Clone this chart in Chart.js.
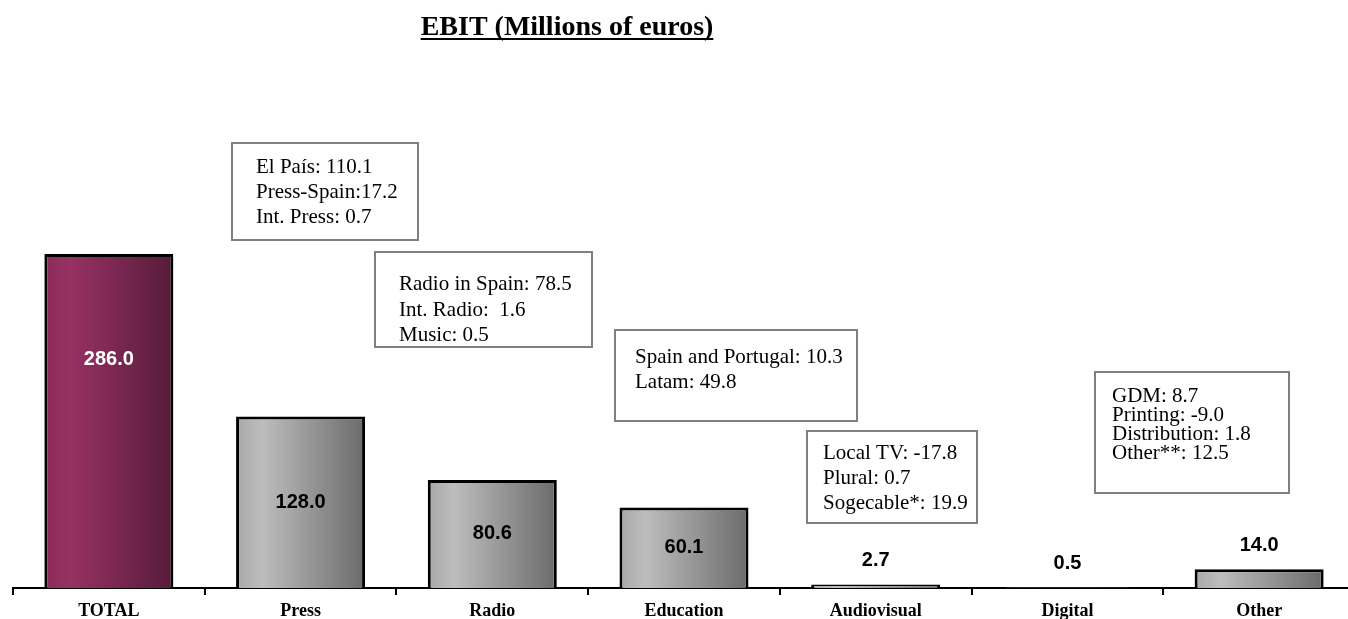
<!DOCTYPE html>
<html lang="en">
<head>
<meta charset="UTF-8">
<title>EBIT (Millions of euros)</title>
<script src="https://cdn.jsdelivr.net/npm/chart.js"></script>
<style>
  html, body { margin: 0; padding: 0; background: #fff; overflow: hidden; }
  #wrap { width: 1370px; height: 619px; }
</style>
</head>
<body>
<div id="wrap"><canvas id="ebitChart"></canvas></div>
<script>
// Data
const categories = ['TOTAL', 'Press', 'Radio', 'Education', 'Audiovisual', 'Digital', 'Other'];
const ebitValues = [286.0, 128.0, 80.6, 60.1, 2.7, 0.5, 14.0];
const breakdownNotes = [
  ['El País: 110.1', 'Press-Spain:17.2', 'Int. Press: 0.7'],
  ['Radio in Spain: 78.5', 'Int. Radio:  1.6', 'Music: 0.5'],
  ['Spain and Portugal: 10.3', 'Latam: 49.8'],
  ['Local TV: -17.8', 'Plural: 0.7', 'Sogecable*: 19.9'],
  ['GDM: 8.7', 'Printing: -9.0', 'Distribution: 1.8', 'Other**: 12.5']
];
const chartTitle = 'EBIT (Millions of euros)';

// TOTAL is drawn on its own (compressed) scale, like the original slide
const totalSeries = ebitValues.map((v, i) => i === 0 ? v : null);
const segmentSeries = ebitValues.map((v, i) => i === 0 ? null : v);

// layout of the note boxes (pixels)
const noteBoxes = [
  { x: 232, y: 143, w: 186, h: 97, tx: 256, ty: [167, 192, 217] },
  { x: 375, y: 252, w: 217, h: 95, tx: 399, ty: [284, 310, 335] },
  { x: 615, y: 330, w: 242, h: 91, tx: 635, ty: [357, 382] },
  { x: 807, y: 431, w: 170, h: 92, tx: 823, ty: [453, 478, 503] },
  { x: 1095, y: 372, w: 194, h: 121, tx: 1112, ty: [396, 415, 434, 453] }
];

const SERIF = "'Liberation Serif', 'Times New Roman', serif";
const SANS = "'Liberation Sans', Arial, sans-serif";
const BAR_PCT = 0.673;

function barGradient(context, purple) {
  const chart = context.chart;
  if (!chart.chartArea) return purple ? '#7f2a55' : '#a0a0a0';
  const xs = chart.scales.x;
  const w = xs.width / categories.length * BAR_PCT;
  const cx = xs.getPixelForValue(context.dataIndex);
  const g = chart.ctx.createLinearGradient(cx - w / 2, 0, cx + w / 2, 0);
  if (purple) {
    g.addColorStop(0, '#8a2b5a');
    g.addColorStop(0.2, '#973263');
    g.addColorStop(1, '#561b3a');
  } else {
    g.addColorStop(0, '#a8a8a8');
    g.addColorStop(0.2, '#bdbdbd');
    g.addColorStop(1, '#6b6b6b');
  }
  return g;
}

const decorPlugin = {
  id: 'decor',
  beforeDraw(chart) {
    const c = chart.ctx;
    c.save();
    c.fillStyle = '#fff';
    c.fillRect(0, 0, chart.width, chart.height);
    c.restore();
  },
  afterDraw(chart) {
    const c = chart.ctx;
    c.save();
    // title, underlined
    c.font = 'bold 28px ' + SERIF;
    c.fillStyle = '#000';
    c.textAlign = 'center';
    c.textBaseline = 'alphabetic';
    c.fillText(chartTitle, 567, 35);
    const tw = c.measureText(chartTitle).width;
    c.fillRect(567 - tw / 2, 38, tw, 2);

    // breakdown boxes
    c.textAlign = 'left';
    c.textBaseline = 'middle';
    c.font = '21px ' + SERIF;
    noteBoxes.forEach((b, k) => {
      c.fillStyle = '#fff';
      c.fillRect(b.x, b.y, b.w, b.h);
      c.strokeStyle = '#808080';
      c.lineWidth = 2;
      c.strokeRect(b.x, b.y, b.w, b.h);
      c.fillStyle = '#000';
      breakdownNotes[k].forEach((line, j) => c.fillText(line, b.tx, b.ty[j]));
    });
    c.restore();
  },
  afterDatasetsDraw(chart) {
    const c = chart.ctx;
    c.save();
    c.font = 'bold 20px ' + SANS;
    c.textAlign = 'center';
    c.textBaseline = 'middle';
    chart.data.datasets.forEach((ds, di) => {
      const meta = chart.getDatasetMeta(di);
      meta.data.forEach((bar, i) => {
        const v = ds.data[i];
        if (v == null) return;
        const h = bar.base - bar.y;
        let y, color = '#000';
        if (i === 0) { y = bar.y + h * 0.315; color = '#fff'; }
        else if (h > 40) { y = bar.y + h / 2; }
        else { y = bar.y - 24; }
        c.fillStyle = color;
        c.fillText(v.toFixed(1), bar.x, y);
      });
    });
    c.restore();
  }
};

const ctx = document.getElementById('ebitChart').getContext('2d');
new Chart(ctx, {
  type: 'bar',
  data: {
    labels: categories,
    datasets: [{
      label: 'TOTAL',
      data: totalSeries,
      yAxisID: 'yTotal',
      backgroundColor: c => barGradient(c, true),
      borderColor: '#000',
      borderWidth: 3,
      grouped: false,
      barPercentage: BAR_PCT,
      categoryPercentage: 1
    }, {
      label: 'EBIT',
      data: segmentSeries,
      yAxisID: 'y',
      backgroundColor: c => barGradient(c, false),
      borderColor: '#000',
      borderWidth: 3,
      grouped: false,
      barPercentage: BAR_PCT,
      categoryPercentage: 1
    }]
  },
  options: {
    responsive: true,
    maintainAspectRatio: false,
    animation: false,
    layout: { padding: { top: 100, left: 13, right: 15, bottom: 0 } },
    plugins: {
      legend: { display: false },
      tooltip: { enabled: false }
    },
    scales: {
      x: {
        offset: true,
        afterFit: s => { s.height = 31; },
        grid: {
          display: true,
          offset: true,
          drawOnChartArea: false,
          drawTicks: true,
          tickLength: 7,
          color: '#000',
          lineWidth: 2
        },
        border: { display: true, color: '#000', width: 2 },
        ticks: {
          padding: 6,
          color: '#000',
          maxRotation: 0,
          autoSkip: false,
          font: { family: SERIF, size: 18, weight: 'bold' }
        }
      },
      y: { display: false, min: 0, max: 364 },
      yTotal: { display: false, min: 0, max: 418 }
    }
  },
  plugins: [decorPlugin]
});
</script>
</body>
</html>
